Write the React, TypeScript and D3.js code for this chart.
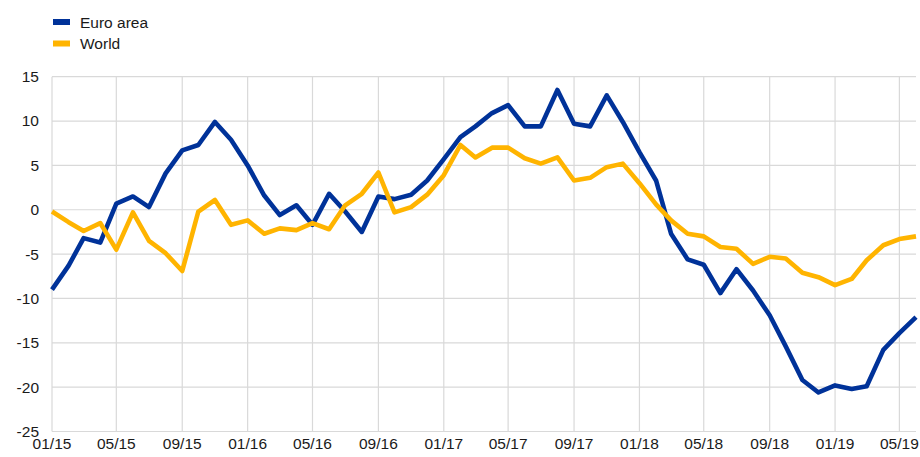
import React from "react";
import * as d3 from "d3";

const startMonth = new Date(2015, 0, 1);
const euroArea = [
  -9.0, -6.3, -3.2, -3.7, 0.7, 1.5, 0.3, 4.1, 6.7, 7.3, 9.9, 7.9,
  5.0, 1.6, -0.6, 0.5, -1.7, 1.8, -0.2, -2.5, 1.5, 1.2, 1.7, 3.3,
  5.7, 8.2, 9.4, 10.9, 11.8, 9.4, 9.4, 13.5, 9.7, 9.4, 12.9, 9.9,
  6.5, 3.3, -2.7, -5.6, -6.2, -9.4, -6.7, -9.1, -11.9, -15.4, -19.2, -20.6,
  -19.8, -20.2, -19.9, -15.8, -13.9, -12.1,
];
const world = [
  -0.2, -1.4, -2.4, -1.5, -4.5, -0.3, -3.5, -4.9, -6.9, -0.2, 1.1, -1.7,
  -1.2, -2.7, -2.1, -2.3, -1.5, -2.2, 0.5, 1.8, 4.2, -0.3, 0.3, 1.7,
  3.9, 7.3, 5.9, 7.0, 7.0, 5.8, 5.2, 5.9, 3.3, 3.6, 4.8, 5.2,
  3.0, 0.6, -1.2, -2.7, -3.0, -4.2, -4.4, -6.1, -5.3, -5.5, -7.1, -7.6,
  -8.5, -7.8, -5.7, -4.0, -3.3, -3.0,
];
const yTicks = [15, 10, 5, 0, -5, -10, -15, -20, -25];
const xTickLabels = ["01/15", "05/15", "09/15", "01/16", "05/16", "09/16", "01/17", "05/17", "09/17", "01/18", "05/18", "09/18", "01/19", "05/19"];
const seriesNames = ["Euro area", "World"];
const seriesColors = ["#003299", "#FFB400"];

const W = 920;
const H = 457;
const FONT = "'Liberation Sans', Arial, sans-serif";

export default function App() {
  const dates = euroArea.map((_, i) => d3.timeMonth.offset(startMonth, i));
  const x = d3
    .scaleTime()
    .domain([dates[0], dates[dates.length - 1]])
    .range([52, 916]);
  const y = d3.scaleLinear().domain([-25, 15]).range([431.5, 76.7]);
  const xTicks = xTickLabels.map((_, i) => d3.timeMonth.offset(startMonth, i * 4));

  const line = d3
    .line<number>()
    .x((_, i) => x(dates[i]))
    .y((d) => y(d));

  const series = [euroArea, world];

  return (
    <div style={{ position: "absolute", left: 0, top: 0 }}>
      <svg width={W} height={H} style={{ display: "block", background: "#fff" }}>
        {yTicks.map((t) => (
          <line key={"h" + t} x1={52} x2={916} y1={y(t)} y2={y(t)} stroke="#d9d9d9" strokeWidth={1.2} />
        ))}
        {xTicks.map((d, i) => (
          <line key={"v" + i} x1={x(d)} x2={x(d)} y1={y(15)} y2={y(-25)} stroke="#d9d9d9" strokeWidth={1.2} />
        ))}
        {yTicks.map((t) => (
          <text key={"yl" + t} x={39} y={y(t)} dy="0.35em" textAnchor="end" fontFamily={FONT} fontSize={15.5} fill="#1a1a1a">
            {t}
          </text>
        ))}
        {xTicks.map((d, i) => (
          <text key={"xl" + i} x={x(d)} y={449} textAnchor="middle" fontFamily={FONT} fontSize={15.5} fill="#1a1a1a">
            {xTickLabels[i]}
          </text>
        ))}
        {[0, 1].map((s) => (
          <path key={"s" + s} d={line(series[s]) || ""} fill="none" stroke={seriesColors[s]} strokeWidth={4.6} strokeLinejoin="round" strokeLinecap="butt" />
        ))}
        {seriesNames.map((n, i) => (
          <g key={"lg" + i} transform={`translate(0, ${i * 21.5})`}>
            <rect x={53} y={19} width={17} height={6} fill={seriesColors[i]} />
            <text x={80} y={27.5} fontFamily={FONT} fontSize={15.5} fill="#1a1a1a">
              {n}
            </text>
          </g>
        ))}
      </svg>
    </div>
  );
}
